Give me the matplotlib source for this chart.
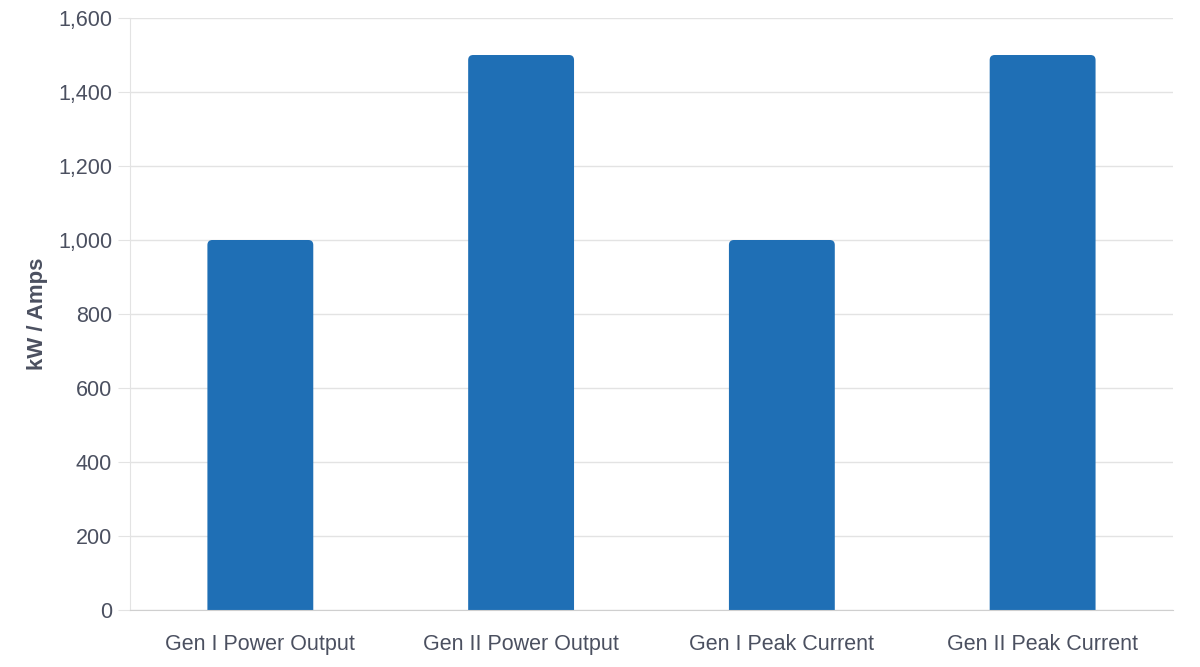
import matplotlib.pyplot as plt
from matplotlib.patches import FancyBboxPatch
from matplotlib.ticker import FuncFormatter

categories = ["Gen I Power Output", "Gen II Power Output", "Gen I Peak Current", "Gen II Peak Current"]
values = [1000, 1500, 1000, 1500]
yticks = [0, 200, 400, 600, 800, 1000, 1200, 1400, 1600]

plt.rcParams['font.family'] = ['Liberation Sans', 'DejaVu Sans']
text_col = "#4b5060"
bar_col = "#1f6fb5"

fig = plt.figure(figsize=(12, 6.67), dpi=100)
ax = fig.add_axes([0.1083, 0.0855, 0.8692, 0.8875])

ax.set_xlim(-0.5, len(categories) - 0.5)
ax.set_ylim(0, 1600)

# rounded top bars
width = 0.406
px_x = (len(categories)) / (0.8692 * 1200)
px_y = 1600 / (0.8875 * 667)
for i, v in enumerate(values):
    p = FancyBboxPatch((i - width / 2, -20), width, v + 20,
                       boxstyle="round,pad=0,rounding_size=%f" % (5 * px_x),
                       mutation_aspect=px_y / px_x,
                       facecolor=bar_col, edgecolor="none", zorder=3)
    ax.add_patch(p)

ax.set_xticks(range(len(categories)))
ax.set_xticklabels(categories)
ax.set_yticks(yticks)
ax.yaxis.set_major_formatter(FuncFormatter(lambda v, p: f"{int(v):,}"))
ax.grid(axis="y", color="#e3e3e3", linewidth=1, zorder=0)
ax.tick_params(axis="y", length=8.6, color="#e3e3e3", labelsize=15.5, labelcolor=text_col, pad=4.3)
ax.tick_params(axis="x", length=0, labelsize=15.5, labelcolor=text_col, pad=17)

for s in ["top", "right"]:
    ax.spines[s].set_visible(False)
ax.spines["left"].set_color("#e3e3e3")
ax.spines["bottom"].set_color("#cfcfcf")
ax.spines["bottom"].set_zorder(4)

ax.set_ylabel("kW / Amps", fontsize=16, fontweight="bold", color=text_col, labelpad=7)

fig.savefig("out.png", dpi=100)
